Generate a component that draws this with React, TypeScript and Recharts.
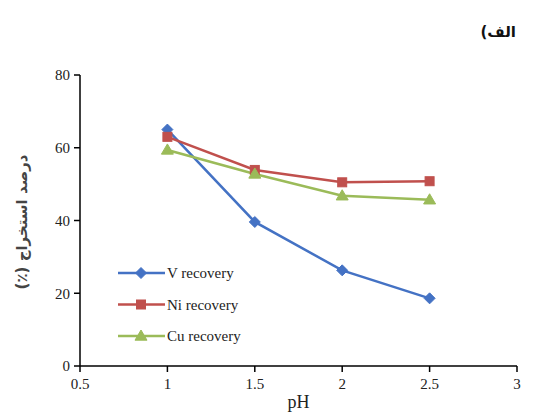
import { LineChart, Line, XAxis, YAxis } from "recharts";

const phValues = [1, 1.5, 2, 2.5];
const vRecovery = [65, 39.6, 26.3, 18.6];
const niRecovery = [63, 53.9, 50.5, 50.8];
const cuRecovery = [59.4, 52.8, 46.8, 45.7];
const xTicks = [0.5, 1, 1.5, 2, 2.5, 3];
const yTicks = [0, 20, 40, 60, 80];

const data = phValues.map((ph, i) => ({ ph, v: vRecovery[i], ni: niRecovery[i], cu: cuRecovery[i] }));

const BLUE = "#4472C4";
const RED = "#C0504D";
const GREEN = "#9BBB59";
const FONT = "Liberation Serif, Times New Roman, serif";

type Shape = "diamond" | "square" | "triangle";

function marker(shape: Shape, cx: number, cy: number, color: string) {
  if (shape === "diamond") {
    const r = 5.5;
    return <path d={`M${cx},${cy - r}L${cx + r},${cy}L${cx},${cy + r}L${cx - r},${cy}Z`} fill={color} stroke={color} />;
  }
  if (shape === "square") {
    const r = 4.5;
    return <rect x={cx - r} y={cy - r} width={2 * r} height={2 * r} fill={color} stroke={color} />;
  }
  const r = 6;
  return <path d={`M${cx},${cy - r}L${cx + r},${cy + r * 0.7}L${cx - r},${cy + r * 0.7}Z`} fill={color} stroke={color} />;
}

const makeDot = (shape: Shape, color: string) => (props: any) => {
  const { cx, cy, index } = props;
  return <g key={index}>{marker(shape, cx, cy, color)}</g>;
};

const series: { key: string; name: string; color: string; shape: Shape }[] = [
  { key: "v", name: "V recovery", color: BLUE, shape: "diamond" },
  { key: "ni", name: "Ni recovery", color: RED, shape: "square" },
  { key: "cu", name: "Cu recovery", color: GREEN, shape: "triangle" },
];

const tickStyle = { fill: "#222", fontSize: 15, fontFamily: FONT };

export default function App() {
  return (
    <div style={{ position: "absolute", left: 0, top: 0, width: 541, height: 417, background: "#fff", fontFamily: FONT }}>
      <LineChart width={541} height={417} data={data} margin={{ top: 75, right: 24, left: 30, bottom: 11 }}>
        <XAxis
          dataKey="ph"
          type="number"
          domain={[0.5, 3]}
          ticks={xTicks}
          tickSize={6}
          stroke="#000"
          strokeWidth={1.5}
          height={40}
          tick={tickStyle}
          tickMargin={6}
          label={{ value: "pH", position: "insideBottom", offset: -2, fill: "#222", fontSize: 18, fontFamily: FONT }}
        />
        <XAxis xAxisId="top" orientation="top" dataKey="ph" type="number" domain={[0.5, 3]} height={0} tick={false} tickLine={false} stroke="#000" strokeWidth={1.5} />
        <YAxis
          domain={[0, 80]}
          ticks={yTicks}
          tickSize={6}
          width={50}
          stroke="#000"
          strokeWidth={1.5}
          tick={tickStyle}
          tickMargin={4}
        />
        <YAxis yAxisId="right" orientation="right" domain={[0, 80]} width={0} tick={false} tickLine={false} stroke="#000" strokeWidth={1.5} />
        {series.map((s) => (
          <Line
            key={s.key}
            dataKey={s.key}
            name={s.name}
            stroke={s.color}
            strokeWidth={2.5}
            isAnimationActive={false}
            dot={makeDot(s.shape, s.color)}
          />
        ))}
      </LineChart>
      <svg width={541} height={417} style={{ position: "absolute", left: 0, top: 0, pointerEvents: "none" }}>
        {series.map((s, i) => {
          const y = 273 + i * 31.5;
          return (
            <g key={s.key}>
              <line x1={118} x2={165} y1={y} y2={y} stroke={s.color} strokeWidth={2.5} />
              {marker(s.shape, 141, y, s.color)}
              <text x={167} y={y + 5} fontSize={15} fontFamily={FONT} fill="#222">{s.name}</text>
            </g>
          );
        })}
        <text
          transform="translate(27,222) rotate(-90)"
          textAnchor="middle"
          direction="rtl"
          fontSize={15}
          fontWeight="bold"
          fontFamily="DejaVu Sans, sans-serif"
          fill="#444"
        >
          درصد استخراج (٪)
        </text>
        <text x={516} y={37} textAnchor="start" direction="rtl" fontSize={15} fontWeight="bold" fontFamily="DejaVu Sans, sans-serif" fill="#111">
          الف)
        </text>
      </svg>
    </div>
  );
}
